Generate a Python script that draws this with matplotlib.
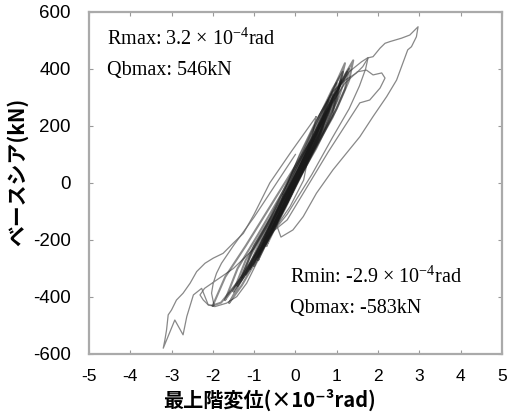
import matplotlib
matplotlib.use("Agg")
import matplotlib.pyplot as plt

plt.rcParams['axes.unicode_minus'] = False
plt.rcParams['mathtext.fontset'] = 'custom'
plt.rcParams['mathtext.rm'] = 'Liberation Serif'

# drift (x10^-3 rad) / base shear (kN), traced loop by loop
p1_x = [-0.3, 0.1, 0.5, 0.9, 1.2, 1.48, 1.63, 1.76, 1.88, 2.05, 2.17, 2.29, 2.57, 2.77, 2.97,
        2.93, 2.81, 2.72, 2.45, 2.21, 1.88, 1.56, 1.24, 0.91, 0.51, 0.19, -0.06, -0.35, -0.45, -0.3]
p1_y = [-40, 100, 220, 320, 360, 386, 408, 439, 443, 473, 490, 496, 508, 519, 548,
        513, 478, 467, 361, 303, 233, 162, 105, 46, -36, -118, -165, -190, -150, -40]

n1_x = [0.5, -0.1, -0.62, -1.0, -1.26, -1.51, -1.75, -1.99, -2.19, -2.39, -2.55, -2.72, -2.88,
        -3.0, -3.08, -3.12, -3.16, -3.2, -2.92, -2.72, -2.63, -2.47, -2.27, -2.11, -1.95,
        -1.67, -1.42, -1.18, -1.02, -0.86, -0.70, -0.46, -0.13, 0.2, 0.5]
n1_y = [232, 110, 0, -110, -177, -212, -247, -264, -282, -311, -352, -387, -411,
        -446, -463, -516, -551, -580, -481, -533, -469, -393, -370, -428, -434,
        -422, -399, -352, -305, -259, -212, -153, -83, 10, 232]

n2_x = [0.1, -0.5, -1.0, -1.5, -1.9, -2.2, -2.31, -2.23, -2.11, -1.97, -2.03, -1.99, -1.91,
        -1.79, -1.5, -1.0, -0.5, 0.0]
n2_y = [40, -110, -230, -300, -340, -370, -393, -411, -428, -430, -387, -352, -317,
        -282, -220, -120, -10, 100]

p2_x = [-0.8, -0.3, 0.3, 0.8, 1.2, 1.5, 1.72, 1.88, 2.09, 2.17, 2.05, 1.80, 1.56, 1.2, 0.8,
        0.3, -0.2, -0.8]
p2_y = [-200, -60, 120, 260, 350, 390, 396, 379, 386, 368, 333, 291, 281, 200, 110,
        -10, -130, -200]

p3_x = [-1.0, -0.4, 0.3, 0.9, 1.3, 1.6, 1.76, 1.7, 1.55, 1.3, 0.9, 0.4, -0.2, -0.7, -1.0]
p3_y = [-260, -80, 130, 300, 390, 425, 440, 400, 340, 260, 160, 30, -110, -200, -260]

m1_x = [-1.5, -1.2, -0.7, -0.1, 0.5, 1.0, 1.3, 1.2, 0.9, 0.4, -0.2, -0.8, -1.3, -1.5]
m1_y = [-380, -270, -150, 0, 170, 320, 400, 330, 230, 100, -60, -220, -340, -380]

m2_x = [-1.7, -1.4, -0.9, -0.3, 0.3, 0.8, 1.2, 1.4, 1.3, 1.0, 0.5, -0.1, -0.7, -1.3, -1.7]
m2_y = [-410, -300, -180, -30, 130, 270, 380, 430, 360, 260, 130, -20, -180, -330, -410]

m3_x = [-1.2, -0.9, -0.5, 0.0, 0.5, 0.9, 1.1, 1.0, 0.7, 0.3, -0.2, -0.7, -1.2]
m3_y = [-320, -220, -110, 20, 170, 300, 360, 290, 190, 80, -70, -210, -320]

m4_x = [-1.0, -0.7, -0.3, 0.2, 0.6, 0.9, 0.8, 0.5, 0.1, -0.4, -0.8, -1.0]
m4_y = [-290, -180, -60, 80, 210, 310, 240, 140, 30, -110, -230, -290]

m5_x = [-0.8, -0.5, -0.2, 0.2, 0.6, 0.8, 0.65, 0.35, 0.0, -0.4, -0.8]
m5_y = [-230, -130, -40, 80, 200, 260, 190, 100, 0, -110, -230]

m6_x = [-0.6, -0.4, -0.1, 0.2, 0.5, 0.6, 0.45, 0.2, -0.1, -0.4, -0.6]
m6_y = [-180, -100, -10, 80, 170, 210, 140, 60, -30, -120, -180]

m7_x = [-0.4, -0.2, 0.0, 0.2, 0.35, 0.25, 0.05, -0.2, -0.4]
m7_y = [-120, -50, 20, 90, 140, 80, 10, -70, -120]

m8_x = [-1.3, -1.0, -0.6, -0.2, 0.2, 0.6, 0.8, 0.65, 0.3, -0.1, -0.5, -0.9, -1.3]
m8_y = [-330, -220, -120, 0, 120, 240, 290, 220, 110, 0, -120, -240, -330]

m9_x = [-2.0, -1.7, -1.2, -0.6, 0.0, 0.6, 1.0, 0.9, 0.5, -0.1, -0.7, -1.3, -1.8, -2.0]
m9_y = [-430, -330, -220, -80, 60, 200, 320, 240, 120, -30, -190, -330, -420, -430]

m10_x = [-0.9, -0.6, -0.2, 0.3, 0.7, 1.2, 1.0, 0.6, 0.1, -0.4, -0.9]
m10_y = [-260, -150, -20, 130, 260, 420, 300, 180, 40, -120, -260]

c1_x = [-0.7, -0.5, -0.2, 0.1, 0.4, 0.7, 0.6, 0.35, 0.05, -0.25, -0.5, -0.7]
c1_y = [-220, -140, -50, 40, 140, 240, 170, 90, 0, -90, -160, -220]

c2_x = [-1.1, -0.8, -0.4, 0.0, 0.4, 0.8, 1.0, 0.85, 0.5, 0.1, -0.3, -0.7, -1.1]
c2_y = [-300, -200, -90, 20, 150, 290, 350, 270, 160, 40, -80, -200, -300]

c3_x = [-0.9, -0.7, -0.35, 0.05, 0.45, 0.75, 0.65, 0.4, 0.0, -0.4, -0.7, -0.9]
c3_y = [-270, -180, -70, 40, 160, 250, 190, 110, -10, -130, -210, -270]

c4_x = [-1.4, -1.1, -0.7, -0.3, 0.1, 0.5, 0.9, 1.15, 1.0, 0.65, 0.2, -0.2, -0.6, -1.0, -1.4]
c4_y = [-360, -260, -150, -40, 80, 210, 330, 390, 310, 200, 60, -60, -170, -280, -360]

c5_x = [-0.5, -0.3, -0.05, 0.2, 0.45, 0.3, 0.1, -0.15, -0.35, -0.5]
c5_y = [-150, -80, 0, 80, 160, 100, 30, -50, -110, -150]

c6_x = [-1.6, -1.3, -0.9, -0.5, -0.1, 0.3, 0.7, 1.1, 1.25, 1.05, 0.7, 0.3, -0.1, -0.5, -0.9,
        -1.3, -1.6]
c6_y = [-420, -340, -250, -150, -40, 90, 220, 350, 390, 300, 190, 70, -40, -150, -260,
        -360, -420]

outer_loops = [(p1_x, p1_y), (n1_x, n1_y), (n2_x, n2_y), (p2_x, p2_y), (p3_x, p3_y)]
inner_loops = [(m1_x, m1_y), (m2_x, m2_y), (m3_x, m3_y), (m4_x, m4_y), (m5_x, m5_y),
               (m6_x, m6_y), (m7_x, m7_y), (m8_x, m8_y), (m9_x, m9_y), (m10_x, m10_y),
               (c1_x, c1_y), (c2_x, c2_y), (c3_x, c3_y), (c4_x, c4_y), (c5_x, c5_y),
               (c6_x, c6_y)]

x_ticks = [-5, -4, -3, -2, -1, 0, 1, 2, 3, 4, 5]
y_ticks = [-600, -400, -200, 0, 200, 400, 600]

fig = plt.figure(figsize=(5.08, 4.12), dpi=100)
ax = fig.add_axes([0.175, 0.141, 0.813, 0.830])

for lx, ly in outer_loops:
    ax.plot(lx, ly, color='#6a6a6a', lw=0.9, alpha=0.8)
for lx, ly in inner_loops:
    ax.plot(lx, ly, color='#1a1a1a', lw=1.5, alpha=0.5)

ax.set_xlim(-5, 5)
ax.set_ylim(-600, 600)
ax.set_xticks(x_ticks)
ax.set_yticks(y_ticks)
ax.set_xticklabels([str(v) for v in x_ticks], fontsize=12.5, fontfamily='Liberation Sans')
ax.set_yticklabels([str(v) for v in y_ticks], fontsize=13.5, fontfamily='Liberation Sans')
ax.tick_params(direction='in', length=3, color='#999999', top=True, right=True)
ax.tick_params(axis='x', pad=11)
ax.tick_params(axis='y', pad=13)
for s in ax.spines.values():
    s.set_color('#aaaaaa')
    s.set_linewidth(1.6)

serif = {'family': 'Liberation Serif', 'size': 14.5}
ax.text(-4.56, 505, 'Rmax: 3.2 × 10$^{-4}$rad', fontdict=serif, va='center')
ax.text(-4.56, 395, 'Qbmax: 546kN', fontdict=serif, va='center')
ax.text(-0.13, -330, 'Rmin: -2.9 × 10$^{-4}$rad', fontdict=serif, va='center')
ax.text(-0.13, -440, 'Qbmax: -583kN', fontdict=serif, va='center')

cjk = ['Noto Sans CJK JP', 'DejaVu Sans']
fig.text(270 / 508, 1 - 400 / 412, '最上階変位(×10⁻³rad)', family=cjk, fontsize=14.5,
         fontweight='bold', ha='center', va='center')
fig.text(17 / 508, 1 - 172 / 412, 'ベースシア(kN)', family=cjk, fontsize=15,
         fontweight='bold', ha='center', va='center', rotation=90)

fig.savefig('out.png', dpi=100)
